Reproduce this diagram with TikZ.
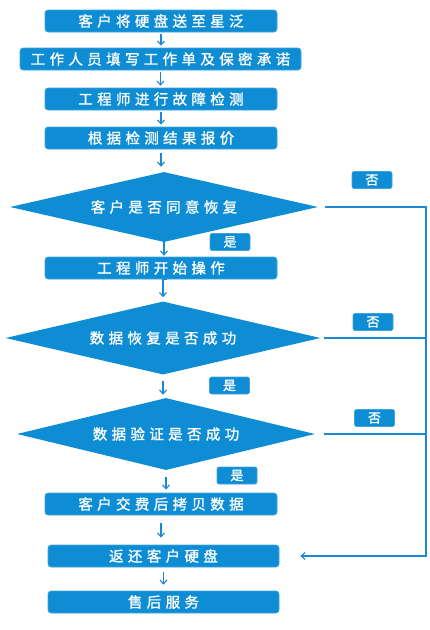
\documentclass[tikz,border=0pt]{standalone}
\usepackage{fontspec}
\usetikzlibrary{shapes.geometric,arrows.meta}
\newfontfamily\cjk[LetterSpace=30,FakeBold=1.2]{Noto Sans CJK SC}
\newfontfamily\cjklab[FakeBold=1.2]{Noto Sans CJK SC}
\definecolor{fcblue}{RGB}{14,141,212}
\definecolor{fcline}{RGB}{26,136,212}
\tikzset{
  stepbox/.style={draw=fcblue!80!white, line width=0.6pt, fill=fcblue, rounded corners=3pt,
    minimum height=22pt, inner sep=0pt, text=white, font=\cjk\fontsize{14.5}{16}\selectfont},
  decision/.style={diamond, fill=fcblue, inner sep=0pt, aspect=4, text=white,
    font=\cjk\fontsize{14.5}{16}\selectfont},
  tag/.style={draw=fcblue!80!white, line width=0.6pt, fill=fcblue, rounded corners=2pt,
    minimum width=40pt, minimum height=17pt, inner sep=0pt, text=white,
    font=\cjklab\fontsize{13}{14}\selectfont},
  flow/.style={draw=fcline, line width=1.3pt, -{Straight Barb[length=4pt,width=7pt,line width=1.1pt]}},
}
\begin{document}
\begin{tikzpicture}[x=1pt,y=-1pt]
\useasboundingbox (0,0) rectangle (430,630);
\node[stepbox, minimum width=232pt] (b1) at (161,21) {客户将硬盘送至星泛};
\node[stepbox, minimum width=281pt] (b2) at (160.5,59) {工作人员填写工作单及保密承诺};
\node[stepbox, minimum width=232pt] (b3) at (161,99) {工程师进行故障检测};
\node[stepbox, minimum width=232pt] (b4) at (161,138) {根据检测结果报价};
\node[decision, minimum width=308pt, minimum height=70pt] (d1) at (164,207) {客户是否同意恢复};
\node[stepbox, minimum width=232pt] (b5) at (161,268) {工程师开始操作};
\node[decision, minimum width=315pt, minimum height=73pt] (d2) at (163,338) {数据恢复是否成功};
\node[decision, minimum width=298pt, minimum height=72pt] (d3) at (166,434) {数据验证是否成功};
\node[stepbox, minimum width=232pt] (b6) at (161,504) {客户交费后拷贝数据};
\node[stepbox, minimum width=231pt] (b7) at (163.5,556) {返还客户硬盘};
\node[stepbox, minimum width=231pt] (b8) at (163.5,602) {售后服务};

\node[tag] (n1) at (372,180) {否};
\node[tag] (y1) at (230,242) {是};
\node[tag] (n2) at (373,322) {否};
\node[tag] (y2) at (229.5,385.5) {是};
\node[tag] (n3) at (374.5,418) {否};
\node[tag] (y3) at (237,475.5) {是};

\coordinate (r1) at (426,207);
\coordinate (r2) at (426,338);
\coordinate (r3) at (426,434);

\draw[flow, shorten <=2pt, shorten >=2pt] (b1.south) -- (b1.south |- b2.north);
\draw[flow, shorten <=2pt, shorten >=2pt] (b2.south) -- (b2.south |- b3.north);
\draw[flow, shorten <=2pt, shorten >=2pt] (b3.south) -- (b3.south |- b4.north);
\draw[flow, shorten <=4pt, shorten >=5pt] (b4.south) -- (b4.south |- d1.north);
\draw[flow, shorten <=0pt, shorten >=1pt] (d1.south) -- (d1.south |- b5.north);
\draw[flow, shorten <=6pt, shorten >=4pt] (b5.south) -- (b5.south -| d2.north) -- (d2.north);
\draw[flow, shorten <=6pt, shorten >=3pt] (d2.south) -- (d2.south |- d3.north);
\draw[flow, shorten <=7pt, shorten >=3pt] (d3.south) -- (d3.south |- b6.north);
\draw[flow, shorten <=8pt, shorten >=7pt] (b6.south) -- (b6.south |- b7.north);
\draw[flow, shorten <=5pt, shorten >=6pt] (b7.south) -- (b7.south |- b8.north);

\draw[flow, shorten <=7pt, shorten >=21pt] (d1.east) -- (r1) |- (b7.east);
\draw[draw=fcline, line width=1.3pt, shorten <=3pt] (d2.east) -- (r2);
\draw[draw=fcline, line width=1.3pt, shorten <=9pt] (d3.east) -- (r3);
\end{tikzpicture}
\end{document}
